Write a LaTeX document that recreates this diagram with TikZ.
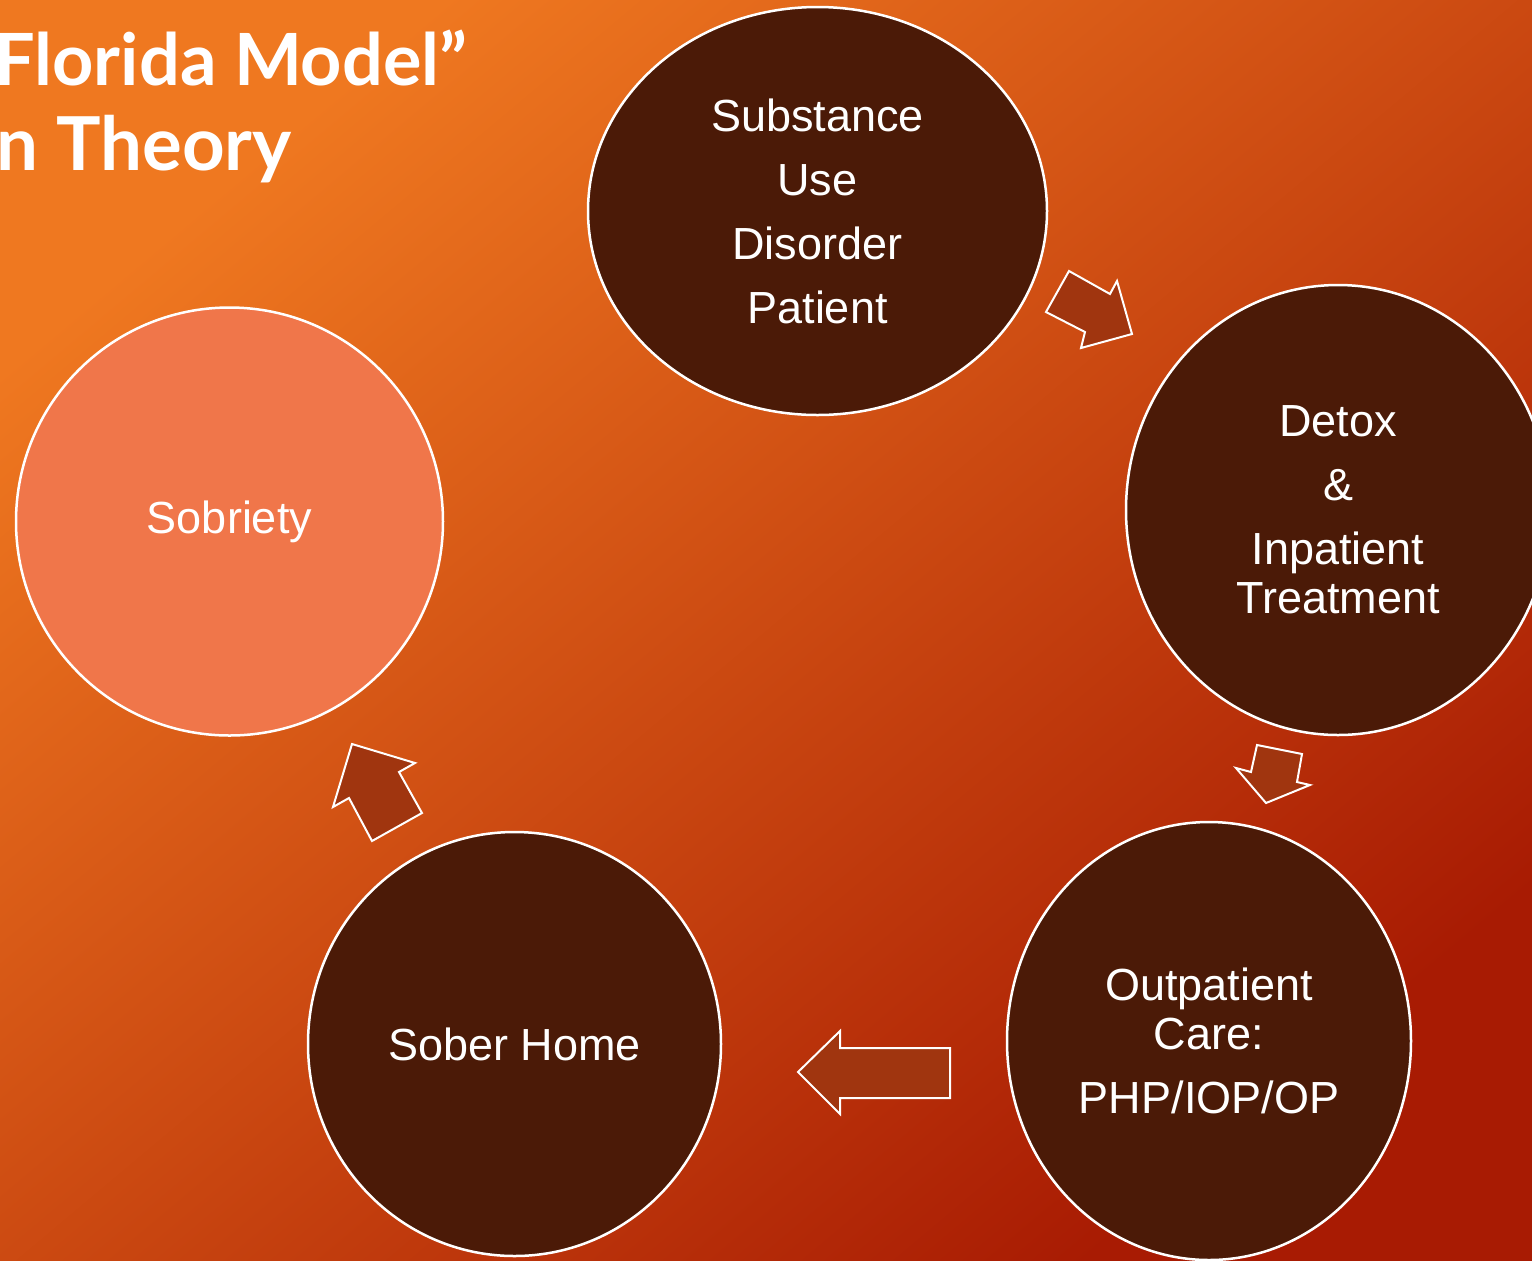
\documentclass[tikz,border=0pt]{standalone}
\usepackage{fontspec}
\setmainfont{Liberation Sans}
\newfontfamily\titlefont{Lato}
\usetikzlibrary{shapes.geometric}
\definecolor{bgA}{HTML}{EF7820}
\definecolor{bgM}{HTML}{D5430A}
\definecolor{bgB}{HTML}{A81B03}
\definecolor{darkfill}{HTML}{4B1A07}
\definecolor{lightfill}{HTML}{F0764A}
\definecolor{arrowfill}{HTML}{A0350F}
\begin{document}
\begin{tikzpicture}[x=0.5pt,y=-0.5pt,
  stage/.style={ellipse, draw=white, line width=1.25pt, fill=darkfill, text=white, inner sep=0pt, align=center, font=\fontsize{22.5}{24.5}\selectfont},
  blockarrow/.style={draw=white, line width=1pt, fill=arrowfill, line join=miter},
  titletext/.style={text=white, font=\titlefont\bfseries\fontsize{36}{40}\selectfont, inner sep=0pt}]
\useasboundingbox (0,0) rectangle (1532,1260);
\clip (0,0) rectangle (1532,1260);
\shade[top color=bgA, middle color=bgM, bottom color=bgB, shading angle=40] (0,0) rectangle (1532,1260);

\node[titletext, anchor=base west] (t1) at (-6,85) {Florida Model”};
\node[titletext, anchor=base west, font=\titlefont\bfseries\fontsize{37.2}{40}\selectfont] (t2) at (-4,170) {n Theory};

\node[stage, minimum width=229.5pt, minimum height=204pt] (sud) at (817.5,211) {Substance\\[7.5pt]Use\\[7.5pt]Disorder\\[7.5pt]Patient};
\node[stage, minimum width=212pt, minimum height=225pt] (detox) at (1338,510) {Detox\\[7.5pt]\&\\[7.5pt]Inpatient\\Treatment};
\node[stage, minimum width=202pt, minimum height=219pt] (out) at (1209,1041) {Outpatient\\Care:\\[7.5pt]PHP/IOP/OP};
\node[stage, minimum width=206.5pt, minimum height=212pt] (sober) at (514.5,1044) {Sober Home};
\node[stage, fill=lightfill, minimum width=213.5pt, minimum height=214pt] (sobriety) at (229.5,521.5) {Sobriety};

\draw[blockarrow] (1069,271) -- (1110,294) -- (1117,281) -- (1132,334) -- (1081,348) -- (1085,332) -- (1046,312) -- cycle;
\draw[blockarrow] (1257,745) -- (1302,754) -- (1297,782) -- (1310,785) -- (1266,803) -- (1236,768) -- (1251,772) -- cycle;
\draw[blockarrow] (798,1072) -- (840,1031) -- (840,1048) -- (950,1048) -- (950,1098) -- (840,1098) -- (840,1114) -- cycle;
\draw[blockarrow] (352,744) -- (415,763) -- (399,772) -- (422,813) -- (372,841) -- (349,798) -- (333,807) -- cycle;
\end{tikzpicture}
\end{document}
